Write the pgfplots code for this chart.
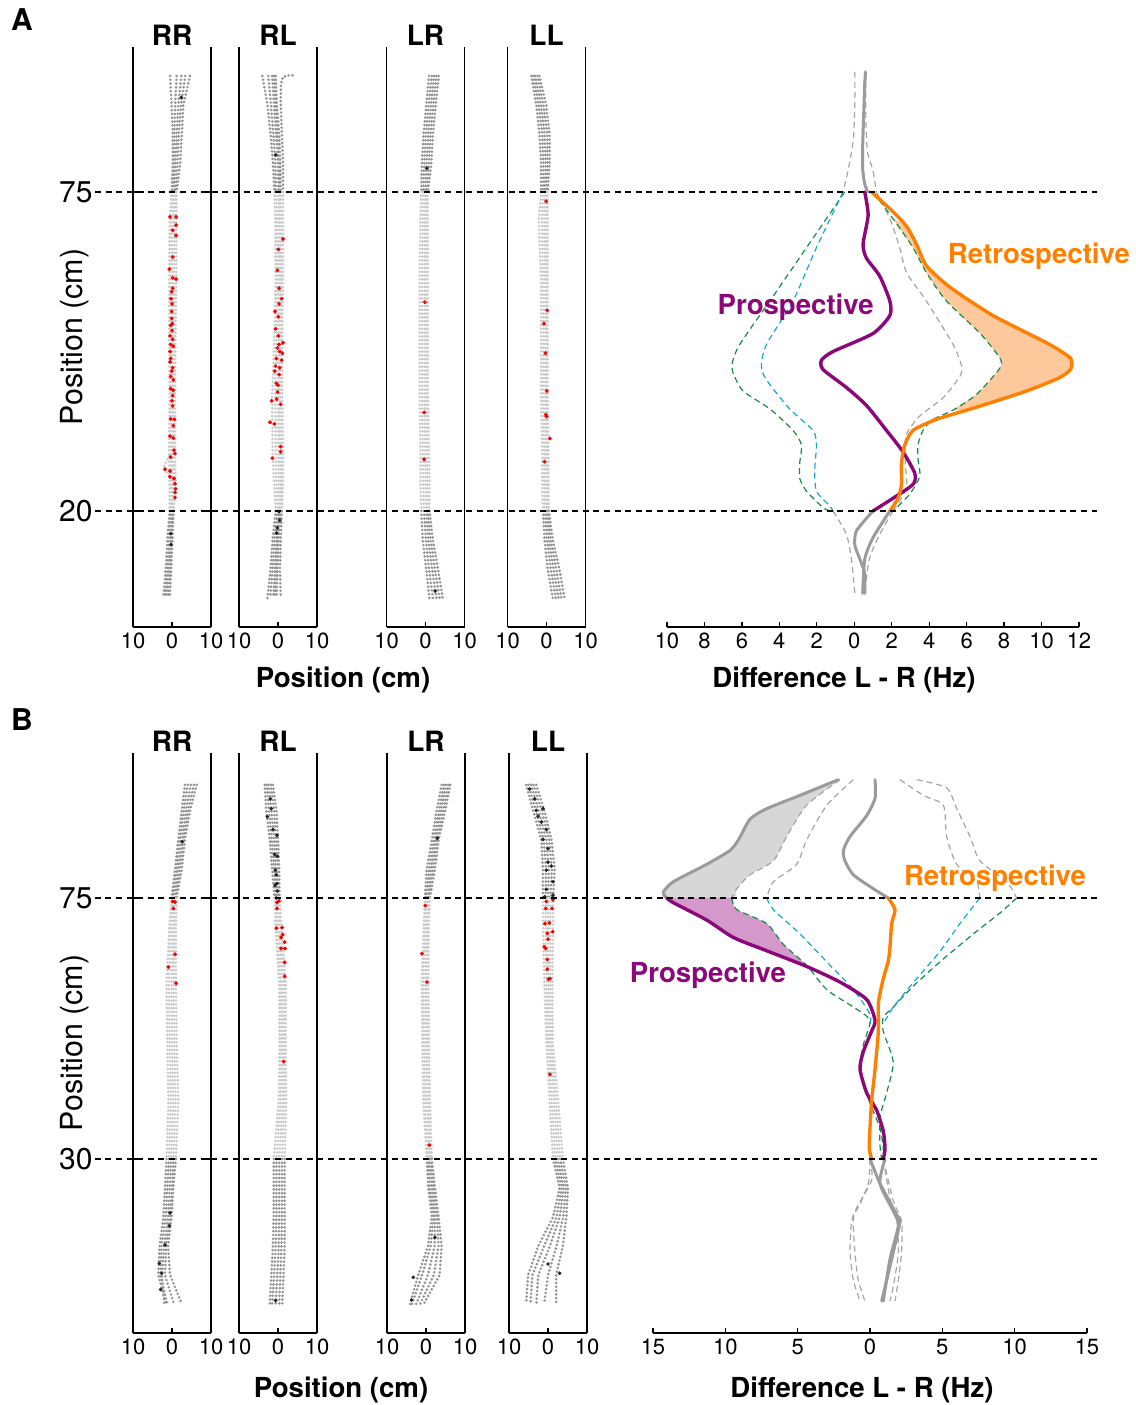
\documentclass[border=0pt]{standalone}
\usepackage{fontspec}
\setmainfont{TeX Gyre Heros}
\usepackage{pgfplots}
\pgfplotsset{compat=1.18}
\usepackage{pgfplotstable}

\definecolor{trajdark}{RGB}{148,148,148}
\definecolor{trajlight}{RGB}{203,203,203}
\definecolor{spikered}{RGB}{250,0,0}
\definecolor{prosp}{RGB}{140,8,120}
\definecolor{retro}{RGB}{255,128,0}
\definecolor{retrofill}{RGB}{253,200,155}
\definecolor{prospfill}{RGB}{212,152,202}
\definecolor{grayfill}{RGB}{215,215,215}
\definecolor{dgreen}{RGB}{20,140,70}
\definecolor{dcyan}{RGB}{20,165,210}
\definecolor{curvegray}{RGB}{155,155,155}
\definecolor{dashgray}{RGB}{165,165,165}

\pgfplotsset{
  every axis title shift=0pt,
  dk/.style={draw=trajdark, line width=1.45pt, line cap=round, dash pattern=on 0pt off 1.9pt},
  lt/.style={draw=trajlight, line width=1.45pt, line cap=round, dash pattern=on 0pt off 1.9pt},
  reddots/.style={only marks, mark=*, mark size=0.75pt, color=spikered},
  blackdots/.style={only marks, mark=*, mark size=0.7pt, color=black!85},
  trajax/.style={anchor=south west, scale only axis, width=39pt, height=290pt,
    xmin=-10, xmax=10, ymin=0, ymax=100,
    axis x line*=bottom, axis line style={line width=0.6pt, black},
    xtick={-10,0,10}, xticklabels={10,0,10}, xtick align=inside, ytick align=inside,
    ytick=\empty, major tick length=2.5pt, tick style={black, line width=0.6pt},
    xticklabel style={font=\fontsize{11}{12}\selectfont, inner sep=1pt, yshift=-2pt},
    title style={font=\bfseries\fontsize{14}{15}\selectfont, at={(0.5,1)}, anchor=south, inner sep=1pt, yshift=-0.5pt},
    unbounded coords=jump, clip=false},
  posax/.style={yticklabel style={font=\fontsize{15}{16}\selectfont, anchor=east, inner sep=0pt, xshift=-20pt},
    ylabel={Position (cm)},
    ylabel style={at={(rel axis cs:-0.744,0.5)}, anchor=center, rotate=0, font=\fontsize{15.2}{16}\selectfont}},
  diffax/.style={anchor=south west, scale only axis, height=290pt, ymin=0, ymax=100,
    axis x line*=bottom, axis y line=none, axis line style={line width=0.6pt, black},
    xtick align=inside, major tick length=2.5pt, tick style={black, line width=0.6pt},
    xticklabel style={font=\fontsize{11}{12}\selectfont, inner sep=1pt, yshift=-2pt},
    unbounded coords=jump, clip=false},
  sm/.style={smooth, tension=0.4},
  gsolid/.style={sm, draw=curvegray, line width=1.5pt, line join=round, line cap=round},
  gdash/.style={sm, draw=dashgray, line width=0.6pt, dash pattern=on 3pt off 2pt},
  grdash/.style={sm, draw=dgreen, line width=0.6pt, dash pattern=on 3pt off 2pt},
  cydash/.style={sm, draw=dcyan, line width=0.6pt, dash pattern=on 3pt off 2pt},
  prline/.style={sm, draw=prosp, line width=1.7pt, line join=round, line cap=round},
  reline/.style={sm, draw=retro, line width=1.7pt, line join=round, line cap=round},
}
\tikzset{zoneline/.style={black, line width=0.6pt, dash pattern=on 3pt off 2.3pt}}

% trajectories: x (cm) at each position y (cm)
\pgfplotstableread{
y t1 t2 t3 t4 t5
95 -0.5 1.2 2.4 3.4 4.6
90 -0.1 0.8 1.6 2.3 2.9
85 0.2 0.6 1.2 1.7 2.5
80 0.2 0.5 0.9 1.4 2.1
75 -0.1 0.2 0.5 0.9 1.2
70 -0.6 -0.2 0.3 0.7 1.1
60 -0.7 -0.3 0.1 0.6 1.1
50 -0.7 -0.2 0.2 0.5 0.9
40 -0.6 -0.3 0.1 0.5 0.8
30 -0.8 -0.3 0.0 0.4 0.8
25 -0.6 -0.2 0.1 0.5 0.9
20 -0.6 -0.3 0.0 0.3 0.4
15 -1.2 -0.8 -0.4 -0.1 0.1
10 -1.6 -1.2 -0.9 -0.5 -0.2
5 -2.2 -1.8 -1.4 -1.0 -0.6
}\trajRRA
\pgfplotstableread{
y t1 t2 t3 t4 t5
95 -4.0 -2.5 -1.5 -0.6 -1.0
90 -2.7 -1.8 -1.0 -0.3 -0.6
85 -1.9 -1.2 -0.5 0.3 -0.1
80 -1.3 -0.7 0.0 0.6 0.3
75 -0.9 -0.5 0.1 0.7 0.4
70 -0.7 -0.3 0.2 0.8 0.5
60 -0.6 -0.2 0.3 0.9 0.6
50 -0.9 -0.4 0.2 0.8 0.5
40 -1.5 -0.7 0.0 0.7 0.4
30 -1.4 -0.6 0.1 0.8 0.5
25 -1.0 -0.4 0.2 0.9 0.6
20 -0.6 -0.2 0.2 0.8 0.5
15 -1.4 -0.9 -0.4 0.2 -0.1
10 -1.9 -1.4 -0.8 -0.1 -0.4
5 -2.7 -2.0 -1.2 -0.4 -0.8
}\trajRLA
\pgfplotstableread{
y t1 t2 t3 t4 t5
95 0.9 1.6 2.2 2.8 3.4
90 0.2 0.8 1.4 2.0 2.6
85 -0.5 0.1 0.7 1.3 1.9
80 -0.9 -0.3 0.3 0.9 1.5
75 -1.1 -0.6 -0.1 0.3 0.6
70 -1.3 -0.7 -0.2 0.2 0.6
60 -1.5 -0.9 -0.3 0.1 0.6
50 -1.5 -0.9 -0.3 0.2 0.6
40 -1.5 -0.9 -0.3 0.2 0.6
30 -1.3 -0.7 -0.1 0.4 0.9
25 -1.3 -0.6 0.0 0.5 1.0
20 -1.1 -0.4 0.2 0.6 1.0
15 -0.7 0.1 0.7 1.3 1.9
10 0.2 0.9 1.7 2.4 3.2
5 1.0 1.9 2.8 3.6 4.4
}\trajLRA
\pgfplotstableread{
y t1 t2 t3 t4 t5
95 -3.9 -3.4 -2.9 -2.3 -1.8
90 -2.6 -2.0 -1.4 -0.8 -0.1
85 -1.8 -1.1 -0.5 0.2 0.8
80 -1.4 -0.8 -0.2 0.3 0.8
75 -1.4 -0.9 -0.5 -0.1 0.3
70 -2.0 -1.2 -0.6 -0.1 0.3
60 -1.4 -0.9 -0.4 0.0 0.3
50 -1.4 -0.8 -0.3 0.1 0.3
40 -1.4 -0.9 -0.4 0.0 0.3
30 -1.1 -0.6 -0.2 0.2 0.5
25 -1.1 -0.6 -0.2 0.2 0.5
20 -0.9 -0.4 0.0 0.3 0.6
15 -0.5 0.1 0.6 1.1 1.6
10 0.3 1.1 1.8 2.5 3.3
5 1.6 2.4 3.1 3.8 4.6
}\trajLLA
\pgfplotstableread{
y t1 t2 t3 t4 t5
94.5 3.3 4.0 4.8 5.6 6.3
90 2.5 3.0 3.6 4.1 4.6
85 1.6 2.0 2.5 2.9 3.3
80 0.8 1.2 1.6 2.0 2.5
75 -0.1 0.2 0.6 0.9 1.2
70 -0.7 -0.3 0.2 0.6 1.0
60 -1.4 -0.8 -0.1 0.4 1.0
50 -1.2 -0.6 0.0 0.6 1.2
40 -0.9 -0.3 0.3 0.9 1.6
30 -1.4 -0.8 -0.2 0.4 1.0
25 -1.8 -1.2 -0.6 0.0 0.3
20 -2.2 -1.6 -1.0 -0.5 -0.1
15 -3.2 -2.7 -2.0 -1.5 -1.0
10 -3.5 -3.0 -2.6 -1.8 -0.5
5 -1.5 -1.2 -2.0 0.5 2.5
}\trajRRB
\pgfplotstableread{
y t1 t2 t3 t4 t5
94.5 -3.4 -2.9 -2.4 -1.8 -1.3
90 -3.0 -2.3 -1.7 -1.0 -0.4
85 -2.1 -1.6 -1.0 -0.5 0.0
80 -1.5 -1.0 -0.6 -0.1 0.3
75 -0.9 -0.6 -0.3 0.1 0.4
70 -0.6 -0.2 0.2 0.6 0.9
60 0.3 0.7 1.1 1.6 2.0
50 0.4 0.8 1.2 1.6 2.0
40 0.2 0.7 1.2 1.6 2.1
30 -1.1 -0.4 0.3 1.0 1.7
25 -1.1 -0.4 0.3 1.0 1.7
20 -1.1 -0.4 0.3 1.0 1.7
15 -1.3 -0.6 0.2 0.9 1.7
10 -1.7 -1.0 -0.2 0.6 1.4
5 -2.1 -1.5 -0.6 0.3 1.1
}\trajRLB
\pgfplotstableread{
y t1 t2 t3 t4 t5
94.5 4.0 4.6 5.1 5.7 6.2
90 2.7 3.3 3.8 4.4 4.9
85 1.5 2.0 2.4 2.8 3.2
80 0.2 0.8 1.3 1.8 2.3
75 -0.3 0.0 0.4 0.7 1.0
70 -0.6 -0.3 0.1 0.4 0.7
60 -1.1 -0.7 -0.2 0.2 0.6
50 -0.9 -0.5 0.0 0.4 0.8
40 -0.7 -0.3 0.2 0.6 1.0
30 0.2 0.5 0.8 1.2 1.5
25 0.6 1.0 1.5 1.9 2.3
20 1.5 1.9 2.3 2.8 3.2
15 0.5 1.2 2.2 3.2 4.0
10 -2.0 -1.0 0.5 2.0 3.5
5 -4.1 -3.6 -2.5 -1.5 -0.6
}\trajLRB
\pgfplotstableread{
y t1 t2 t3 t4 t5
94.5 -5.6 -5.0 -4.3 -3.7 -3.0
90 -3.8 -3.1 -2.4 -1.6 -0.9
85 -1.7 -1.1 -0.4 0.3 0.9
80 -1.3 -0.5 0.2 1.0 1.7
75 -1.3 -0.6 0.0 0.6 1.3
70 -1.3 -0.6 0.0 0.6 1.3
60 -0.9 -0.4 0.1 0.6 1.1
50 -0.4 0.0 0.4 0.8 1.2
40 0.4 0.9 1.5 2.0 2.6
30 1.3 1.9 2.5 3.1 3.8
25 3.0 3.5 4.0 4.6 5.1
20 1.3 2.2 3.0 3.9 4.7
15 -2.5 -1.0 0.5 2.2 3.8
10 -5.1 -4.0 -2.5 0.0 2.1
5 -5.6 -4.5 -3.0 -1.0 2.1
}\trajLLB

% #1 table, #2 lower edge of the shaded zone
\newcommand\trajset[2]{%
  \pgfplotsinvokeforeach{t1,t2,t3,t4,t5}{%
    \addplot[dk, restrict y to domain=75:100] table[x=##1,y=y]{#1};
    \addplot[lt, restrict y to domain=#2:75] table[x=##1,y=y]{#1};
    \addplot[dk, restrict y to domain=0:#2] table[x=##1,y=y]{#1};
  }}

\begin{document}
\begin{tikzpicture}
\path[use as bounding box] (0,0) rectangle (568pt,702.5pt);
\node[font=\bfseries\fontsize{15}{16}\selectfont] at (11pt,692.5pt) {A};
\node[font=\bfseries\fontsize{15}{16}\selectfont] at (11pt,342.5pt) {B};

% ================= Panel A =================
\begin{axis}[trajax, at={(66.5pt,389pt)}, title={RR}, ytick={20,75}, yticklabels={20,75}, posax]
\trajset{\trajRRA}{20}
\addplot[lt] coordinates {(-0.7,29.5) (-2.2,27.4) (-0.6,26)};
\addplot[reddots] coordinates {(-0.51,70.7)(1.03,70.7)(1.03,69.3)(0.17,68.4)(1.03,67.5)(0.17,63.8)(-0.68,61.7)(0.17,60.2)(1.03,60.0)(0.17,58.4)(-0.09,57.8)(-0.26,56.6)(0,55.7)(-0.09,54.4)(-0.09,53.2)(0.09,52.3)(-0.34,52.0)(0,51.1)(-0.51,50.2)(0.17,49.6)(-0.34,48.7)(0.34,48.4)(-0.51,47.5)(-0.34,46.3)(-0.51,45.7)(0.17,44.7)(-0.09,44.1)(-0.34,43.2)(0.34,42.6)(-0.34,41.1)(0.34,40.8)(0.17,39.9)(0,39.0)(0.17,38.1)(-0.34,35.9)(0.6,35.8)(0.34,34.7)(-0.51,32.9)(0.34,32.6)(0.51,30.5)(0.77,29.9)(-0.34,29.3)(-1.79,27.2)(-0.51,26.9)(-0.51,25.9)(0.51,25.6)(0.77,24.7)(0.94,23.8)(0.77,23.2)(0.77,22.3)};
\addplot[blackdots] coordinates {(2.4,91.3)(-0.34,16.1)(-0.26,14.2)};
\end{axis}

\begin{axis}[trajax, at={(119.5pt,389pt)}, title={RL}]
\trajset{\trajRLA}{20}
\addplot[dk] coordinates {(3.7,95.1)(2.5,95.1)(1.2,94.8)(0.75,93.5)(0.7,90)(1.0,85)(1.3,80)(1.3,75)};
\addplot[lt] coordinates {(1.3,75)(1.3,70)(1.3,60)(1.1,50)(1.1,40)(1.3,30)(1.3,25)(1.0,20)};
\addplot[dk] coordinates {(1.0,20)(0.7,15)(0.5,10)(0.7,5)};
\addplot[reddots] coordinates {(1.28,66.9)(0.09,65.1)(-0.17,61.5)(0.26,58.4)(0.94,56.6)(0.26,55.7)(-0.77,54.4)(0.09,53.5)(-0.6,51.4)(0.09,50.2)(1.28,49.0)(0.26,48.7)(-0.17,48.1)(0.43,47.5)(1.11,47.2)(-0.43,46.3)(0.94,46.0)(-0.6,45.0)(0.43,44.7)(-0.85,44.1)(0.26,43.5)(-0.43,42.0)(0,41.7)(-0.09,40.5)(-0.34,39.3)(-1.62,39.0)(0.68,38.4)(-2.05,35.3)(-0.94,35.0)(0.68,31.1)(0.68,30.2)(-1.45,29.1)};
\addplot[blackdots] coordinates {(-0.6,81.4)(0.26,19.9)(0.43,18.4)(-0.17,17.1)(-0.34,16.2)};
\end{axis}

\begin{axis}[trajax, at={(193.25pt,389pt)}, title={LR}]
\trajset{\trajLRA}{20}
\addplot[reddots] coordinates {(-0.17,56.0)(-0.34,37.0)(-0.34,28.9)};
\addplot[blackdots] coordinates {(0.34,79.1)(2.48,6.2)};
\end{axis}

\begin{axis}[trajax, at={(253.75pt,389pt)}, title={LL}]
\trajset{\trajLLA}{20}
\addplot[reddots] coordinates {(-0.09,73.4)(0.17,54.6)(-0.68,52.3)(-0.26,47.2)(0.09,40.7)(-0.17,36.6)(0,36.3)(0.85,32.5)(-0.51,28.5)};
\end{axis}

\node[font=\bfseries\fontsize{13.8}{15}\selectfont] at (171.5pt,362.5pt) {Position (cm)};

\begin{axis}[diffax, at={(333.5pt,389pt)}, width=206pt, xmin=-10, xmax=12,
  xtick={-10,-8,-6,-4,-2,0,2,4,6,8,10,12}, xticklabels={10,8,6,4,2,0,2,4,6,8,10,12}]
% retrospective area above the shuffle bound
\addplot[sm, fill=retrofill, draw=none] coordinates {(2.07,70.4)(2.79,69.1)(3.32,66.0)(3.85,62.3)(5.1,58.6)(7.41,53.7)(10.44,48.7)(11.55,46.3)(11.55,44.4)(10.9,42.9)(9.21,40.7)(6.53,37.9)(5.28,37.4)(6.53,40.1)(7.77,44.6)(7.77,46.4)(6.7,50.7)(4.92,56.2)(3.85,61.1)(3.14,65.4)} -- cycle;
% shuffle bounds
\addplot[gdash] coordinates {(0.03,95.7)(0.03,90)(-0.05,84)(-0.33,78.7)(-0.6,75)};
\addplot[gdash] coordinates {(0.62,95.7)(0.62,88)(0.7,82)(1.0,78.7)(1.18,75)};
\addplot[gdash] coordinates {(1.18,75)(1.9,70.4)(2.43,65.4)(2.79,61.1)(3.85,56.2)(5.28,48.7)(5.73,45.0)(5.64,43.2)(4.74,39.5)(3.5,36.4)(2.79,33.3)(2.7,30.3)(2.75,27.2)(2.8,24.2)(2.43,21.7)(2.07,20.0)};
\addplot[grdash] coordinates {(-0.51,75)(-2.55,65.4)(-4.51,56.2)(-6.12,48.7)(-6.51,45.6)(-6.47,43.8)(-5.94,40.7)(-4.51,37.6)(-3.27,33.9)(-2.82,31.4)(-2.91,28.3)(-2.91,25.6)(-2.55,23.4)(-1.67,20.6)(-1.31,20)};
\addplot[cydash] coordinates {(-0.6,75)(-2.02,65.4)(-3.27,56.2)(-4.69,48.7)(-4.96,45)(-4.69,42.6)(-3.45,37.6)(-2.2,33.9)(-2.02,31.4)(-2.11,27.1)(-2.02,23.4)(-1.31,20.9)(-1.13,20)};
\addplot[grdash] coordinates {(1.0,75)(2.07,70.4)(3.14,65.4)(3.85,61.1)(4.92,56.2)(6.7,50.7)(7.77,46.4)(7.77,44.6)(6.53,40.1)(5.28,37.4)(4.21,35.8)(3.67,33.9)(3.4,31.4)(3.4,29.0)(3.5,26.0)(2.96,22.9)(2.07,20)};
\addplot[gdash] coordinates {(-1.13,20)(-0.42,16.0)(-0.15,11.7)(0.03,5.8)};
\addplot[gdash] coordinates {(2.07,20)(1.36,16.0)(0.8,11.7)(0.56,5.8)};
% signals
\addplot[gsolid] coordinates {(0.6,95.7)(0.55,93)(0.5,88)(0.45,83)(0.45,79)(0.55,76.5)(0.72,75)};
\addplot[gsolid] coordinates {(1.0,20)(0.12,16.6)(0.03,14.1)(0.3,11.7)(0.56,9.2)(0.56,5.8)};
\addplot[gsolid] coordinates {(1.9,20)(1.0,15.4)(0.56,11.7)(0.45,5.8)};
\addplot[prline] coordinates {(0.56,75)(0.74,71.0)(0.47,66.0)(0.65,63.6)(1.36,60.5)(1.9,56.2)(1.9,53.7)(1.0,50.6)(-1.13,47.5)(-1.75,46.0)(-1.67,44.4)(-0.42,41.3)(0.65,38.2)(1.72,33.9)(2.6,30.2)(3.23,26.5)(3.14,24.6)(2.07,22.2)(1.0,20)};
\addplot[reline] coordinates {(0.92,75)(2.07,71.6)(2.79,69.1)(3.32,66.0)(3.85,62.3)(5.1,58.6)(7.41,53.7)(10.44,48.7)(11.55,46.3)(11.55,44.4)(10.9,42.9)(9.21,40.7)(6.53,37.9)(4.39,35.8)(3.14,33.9)(2.7,31.4)(2.52,28.3)(2.52,24.6)(2.34,22.2)(1.9,20)};
\node[font=\bfseries\fontsize{13.8}{15}\selectfont, text=prosp] at (axis cs:-3.13,55.1) {Prospective};
\node[font=\bfseries\fontsize{13.8}{15}\selectfont, text=retro] at (axis cs:9.86,63.9) {Retrospective};
\draw[zoneline] (rel axis cs:-1.388,0.75) -- (rel axis cs:1.0437,0.75);
\draw[zoneline] (rel axis cs:-1.388,0.20) -- (rel axis cs:1.0437,0.20);
\end{axis}
\node[font=\bfseries\fontsize{13.8}{15}\selectfont] at (422pt,362.5pt) {Difference L - R (Hz)};

% ================= Panel B =================
\begin{axis}[trajax, at={(66.5pt,36pt)}, title={RR}, ytick={30,75}, yticklabels={30,75}, posax]
\trajset{\trajRRB}{30}
\addplot[reddots] coordinates {(0.17,74.4)(0.77,74.3)(0.34,73.2)(0.77,65.3)(-0.94,63.1)(1.03,60.3)};
\addplot[blackdots] coordinates {(2.6,84.7)(-0.51,20.7)(-0.68,18.5)(-1.79,15.2)(-3.25,12.0)(-2.65,10.3)(-2.9,7.5)};
\end{axis}

\begin{axis}[trajax, at={(119.5pt,36pt)}, title={RL}]
\trajset{\trajRLB}{30}
\addplot[reddots] coordinates {(-0.26,74.2)(0.26,74.5)(-0.26,73.2)(-0.43,69.8)(1.03,69.9)(1.2,68.7)(0.77,68.2)(1.71,67.4)(0.77,66.3)(1.79,66.3)(1.71,63.9)(1.71,61.5)(1.45,46.8)};
\addplot[blackdots] coordinates {(-1.97,92.1)(-1.71,90.4)(-2.74,89.0)(-1.28,86.8)(-0.26,85.8)(-0.85,82.5)(-0.17,82.2)(-0.68,79.8)(-0.43,79.0)(-0.26,77.5)(-0.77,77.2)(-0.17,76.2)(-0.43,75.0)(-0.6,5.6)};
\end{axis}

\begin{axis}[trajax, at={(193.5pt,36pt)}, title={LR}]
\trajset{\trajLRB}{30}
\addplot[reddots] coordinates {(-0.17,73.7)(-1.03,65.4)(0.26,60.5)(0.85,32.4)};
\addplot[blackdots] coordinates {(2.9,85.3)(2.3,16.5)(-3.25,9.6)(-3.7,5.7)};
\end{axis}

\begin{axis}[trajax, at={(254.5pt,36pt)}, title={LL}]
\trajset{\trajLLB}{30}
\addplot[reddots] coordinates {(-0.43,74.4)(1.28,74.7)(-0.6,73.2)(1.03,73.2)(-0.77,70.6)(0.34,70.7)(1.2,69.2)(-0.17,68.9)(0,67.9)(-0.94,66.6)(-0.6,66.3)(-0.17,64.4)(-0.17,62.7)(0.09,61.0)(0.51,61.1)(0.51,44.6)};
\addplot[blackdots] coordinates {(-4.7,93.8)(-3.4,92.1)(-3.0,90.1)(-2.56,89.1)(-1.28,90.4)(-1.71,88.1)(-0.43,86.8)(-1.28,85.1)(0,83.5)(0,81.2)(-0.43,79.8)(0.85,80.5)(1.28,77.8)(-0.43,76.5)(1.28,75.5)(-0.85,75.2)(0,11.9)(2.99,10.3)};
\end{axis}

\node[font=\bfseries\fontsize{13.8}{15}\selectfont] at (170.5pt,7.5pt) {Position (cm)};

\begin{axis}[diffax, at={(326.5pt,36pt)}, width=217pt, xmin=-15, xmax=15,
  xtick={-15,-10,-5,0,5,10,15}, xticklabels={15,10,5,0,5,10,15}]
% areas
\addplot[sm, fill=grayfill, draw=none] coordinates {(-2.19,95.4)(-4.84,92.7)(-7.14,90.4)(-8.29,88.6)(-9.1,85.0)(-9.68,83.2)(-11.29,80.8)(-13.6,77.8)(-14.29,76.0)(-14.05,75)(-9.56,75)(-9.21,76.6)(-8.29,79.0)(-6.68,81.4)(-5.76,85.6)(-4.38,91.0)(-2.07,95.4)} -- cycle;
\addplot[sm, fill=prospfill, draw=none] coordinates {(-14.05,75)(-13.6,74.2)(-11.29,71.2)(-9.45,68.2)(-7.14,65.9)(-4.38,63.2)(-4.38,63.4)(-5.99,67.0)(-7.14,70.6)(-9.21,73.0)(-9.56,75)} -- cycle;
% shuffle bounds
\addplot[gdash] coordinates {(-2.07,95.4)(-4.38,91.0)(-5.76,85.6)(-6.68,81.4)(-8.29,79.0)(-9.21,76.6)(-9.56,75)};
\addplot[gdash] coordinates {(-1.15,95.4)(-2.99,91.0)(-4.38,85.0)(-5.07,80.8)(-6.68,77.8)(-7.14,75)};
\addplot[gdash] coordinates {(2.07,95.4)(3.68,92.7)(5.07,91.0)(5.3,85.6)(5.99,80.8)(7.37,77.8)(7.6,75)};
\addplot[gdash] coordinates {(3.23,95.4)(5.3,94.0)(6.0,90.4)(6.91,85.6)(7.6,81.4)(9.45,77.8)(10.14,75)};
\addplot[grdash] coordinates {(-9.56,75)(-9.21,73.0)(-7.14,70.6)(-5.99,67.0)(-4.38,63.4)(-2.99,59.2)(-1.15,56.2)(0,53.9)(-0.46,49.7)(-0.69,45.5)(0,39.6)(0.69,35.4)(0.92,31.8)(0.92,30)};
\addplot[cydash] coordinates {(-7.14,75)(-6.68,73.0)(-4.84,68.8)(-2.99,64.0)(-1.15,59.2)(0,55.0)(0,53.2)};
\addplot[grdash] coordinates {(10.14,75)(8.98,72.4)(7.14,68.8)(4.84,64.0)(2.99,59.8)(1.61,56.2)(0.92,54.4)(0.92,52.0)(1.61,46.7)(1.15,41.4)(0.69,37.2)(0.69,32.4)(0.8,30)};
\addplot[cydash] coordinates {(7.6,75)(6.22,70.6)(4.84,65.8)(2.99,60.4)(1.61,56.2)(1.04,53.8)};
\addplot[gdash] coordinates {(0,30)(0.12,26.4)(-0.92,21.6)(-1.27,19.2)(-1.38,13.9)(-1.15,9.1)(-0.69,5.5)};
\addplot[gdash] coordinates {(0,30)(-0.1,26)(-0.69,22.2)(-1.15,19.8)(-1.04,13.9)(-0.81,9.1)(-0.35,5.5)};
\addplot[gdash] coordinates {(0.92,30)(1.61,22.8)(2.18,19.2)(2.18,13.9)(1.96,9.1)(1.73,5.5)};
\addplot[gdash] coordinates {(0.92,30)(1.4,23)(1.84,19.8)(1.96,13.9)(1.61,8)(1.38,5.5)};
% signals
\addplot[gsolid] coordinates {(0.35,95.4)(0.35,92.2)(-0.23,89.2)(-1.38,85.6)(-1.84,83.2)(-1.73,81.4)(-1.15,79.0)(0.23,76.6)(1.26,75)};
\addplot[gsolid] coordinates {(-2.19,95.4)(-4.84,92.7)(-7.14,90.4)(-8.29,88.6)(-9.1,85.0)(-9.68,83.2)(-11.29,80.8)(-13.6,77.8)(-14.29,76.0)(-14.05,75)};
\addplot[gsolid] coordinates {(0,30)(0.69,25.8)(1.84,20.4)(2.07,19.2)(1.61,13.9)(1.15,9.1)(0.81,5.5)};
\addplot[gsolid] coordinates {(1.04,30)(0.69,25.8)(1.61,21.0)(1.96,18.6)(1.38,12.7)(0.92,5.5)};
\addplot[prline] coordinates {(-14.05,75)(-13.6,74.2)(-11.29,71.2)(-9.45,68.2)(-7.14,65.9)(-4.38,63.2)(-2.07,60.5)(-0.23,57.5)(0.35,53.9)(0.12,52.1)(-0.46,48.5)(-0.69,45.5)(-0.23,41.4)(0.46,38.4)(0.92,34.8)(1.04,31.8)(0.92,30)};
\addplot[reline] coordinates {(1.26,75)(1.73,73.0)(1.5,70.6)(1.38,66.5)(1.26,64.1)(0.92,61.1)(0.58,56.9)(0.58,52.1)(0.35,45.5)(0.12,40.2)(0,35.4)(-0.05,31.8)(0.12,30)};
\node[font=\bfseries\fontsize{13.8}{15}\selectfont, text=prosp] at (axis cs:-11.2,61.6) {Prospective};
\node[font=\bfseries\fontsize{13.8}{15}\selectfont, text=retro] at (axis cs:8.64,78.4) {Retrospective};
\draw[zoneline] (rel axis cs:-1.286,0.75) -- (rel axis cs:1.023,0.75);
\draw[zoneline] (rel axis cs:-1.286,0.30) -- (rel axis cs:1.023,0.30);
\end{axis}
\node[font=\bfseries\fontsize{13.8}{15}\selectfont] at (431pt,7.5pt) {Difference L - R (Hz)};
\end{tikzpicture}
\end{document}
